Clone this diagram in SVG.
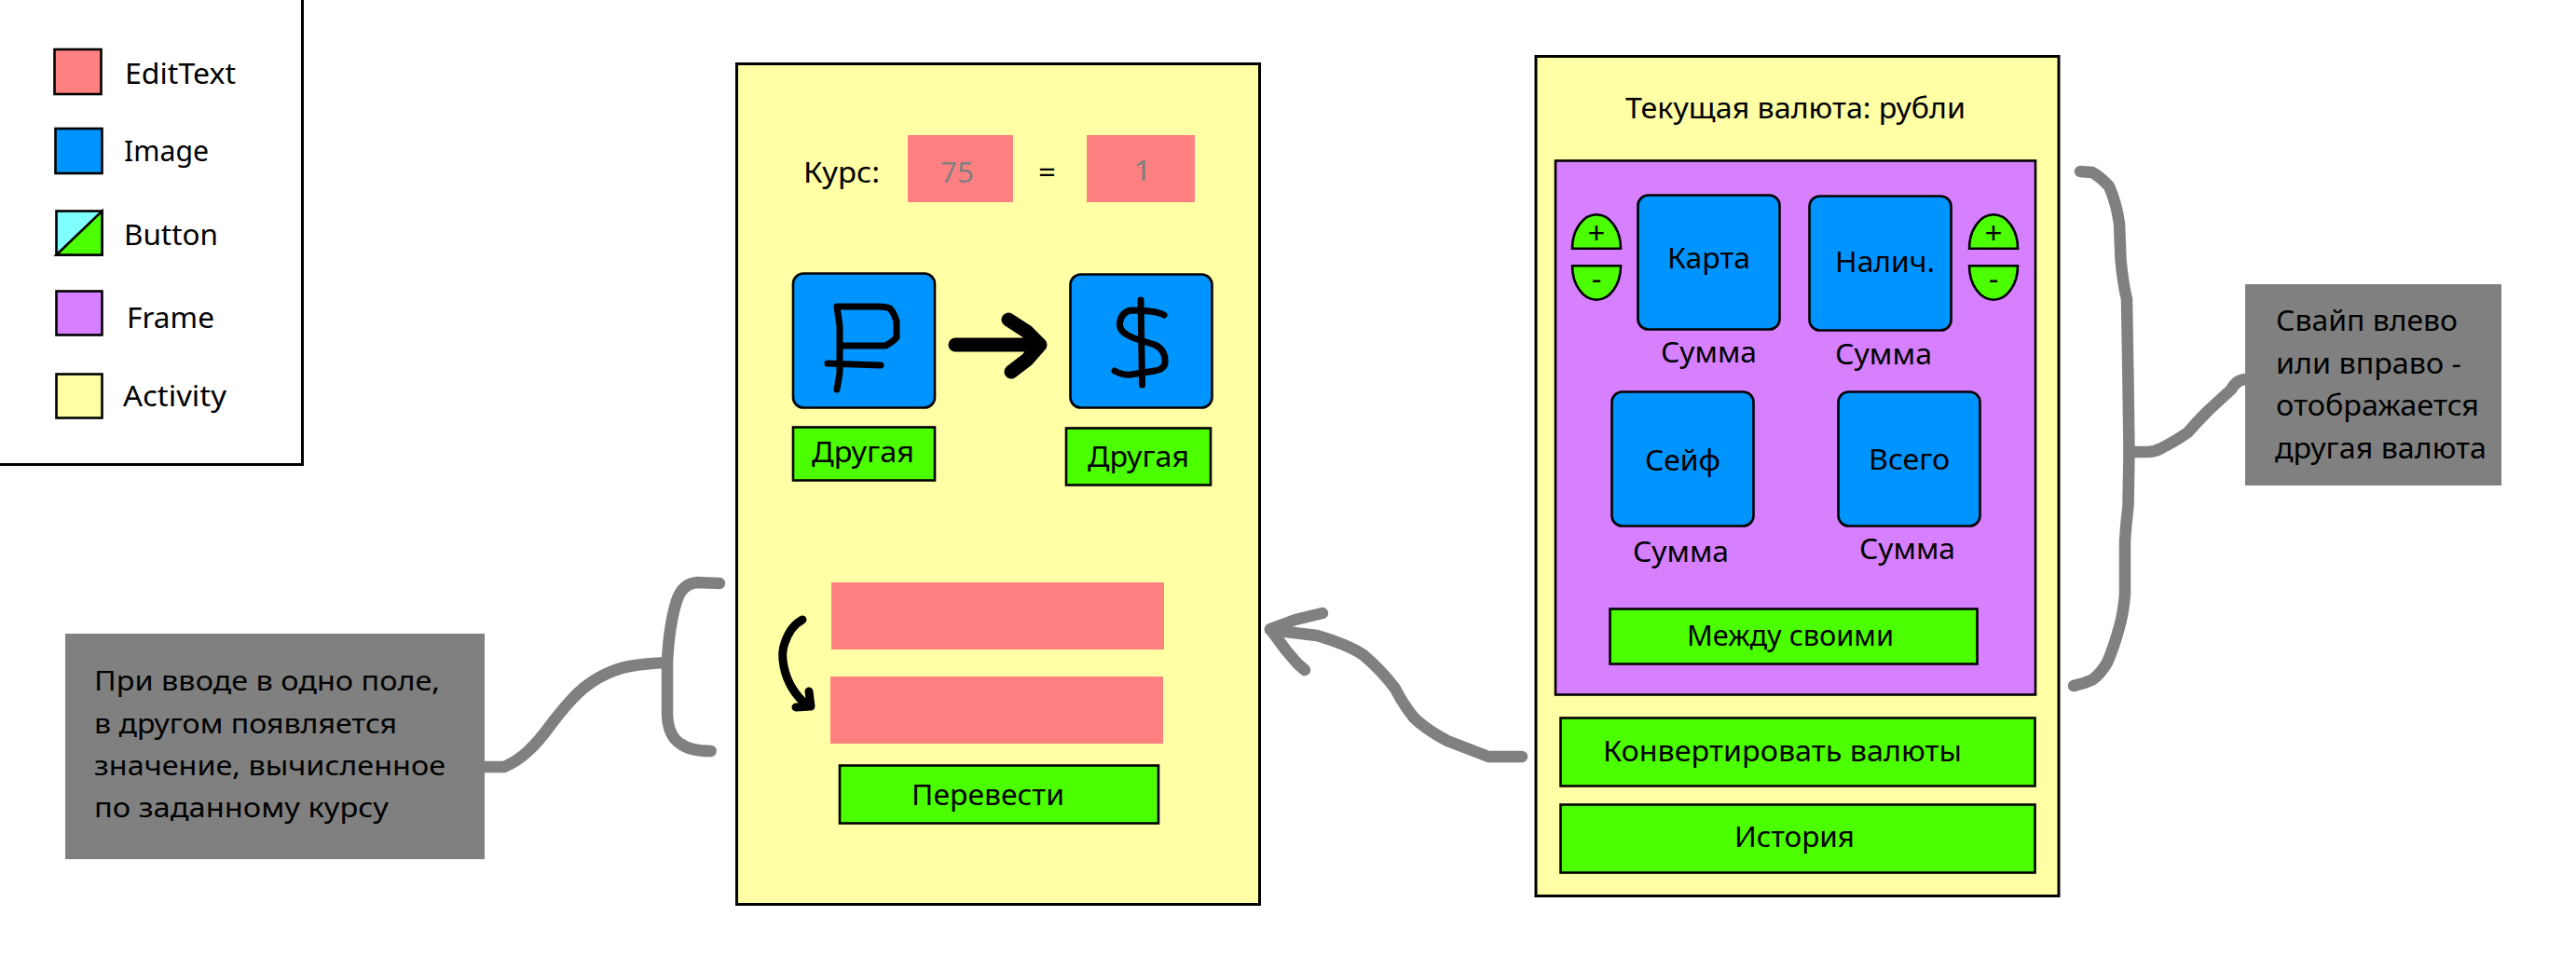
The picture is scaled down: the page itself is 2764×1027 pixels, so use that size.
<svg xmlns="http://www.w3.org/2000/svg" width="2764" height="1027" viewBox="0 0 2764 1027">
<style>
text{font-family:"Noto Sans","Open Sans","Liberation Sans",sans-serif;font-size:30px;fill:#000}
.n{font-size:29px}
.m{font-size:31.5px}
.p{font-size:33px}
.s{stroke:#000;stroke-width:2.6}
.a{fill:#FFFFA5;stroke:#000;stroke-width:3}
.e{fill:#FF8080}
.i{fill:#0094FF;stroke:#000;stroke-width:2.6}
.b{fill:#4CFF00;stroke:#000;stroke-width:2.6}
.f{fill:#D67FFF;stroke:#000;stroke-width:2.6}
.note{fill:#808080}
.ink{fill:none;stroke:#000;stroke-linecap:round;stroke-linejoin:round}
.con{fill:none;stroke:#808080;stroke-width:12.5;stroke-linecap:round;stroke-linejoin:round}
</style>
<rect width="2764" height="1027" fill="#fff"/>
<g id="legend">
<rect x="-10" y="-10" width="334.5" height="508.5" fill="#fff" stroke="#000" stroke-width="3"/>
<rect class="s" x="58.5" y="53" width="50" height="48" fill="#FF8080"/>
<text x="134" y="90" textLength="119" lengthAdjust="spacingAndGlyphs">EditText</text>
<rect class="i" x="59.5" y="138" width="50" height="48"/>
<text x="133" y="173" textLength="91" lengthAdjust="spacingAndGlyphs">Image</text>
<rect class="s" x="60.5" y="226.5" width="49" height="47" fill="#7FFFFF"/>
<path d="M60.5 273.5L109.5 226.5V273.5Z" fill="#4CFF00" stroke="#000" stroke-width="2.6"/>
<text x="133" y="263" textLength="101" lengthAdjust="spacingAndGlyphs">Button</text>
<rect class="f" x="60.5" y="312.5" width="49" height="47"/>
<text x="136" y="352" textLength="94" lengthAdjust="spacingAndGlyphs">Frame</text>
<rect class="s" x="60.5" y="401.5" width="49" height="47" fill="#FFFFA5"/>
<text x="132" y="436" textLength="111" lengthAdjust="spacingAndGlyphs">Activity</text>
</g>
<g id="activity-convert">
<rect class="a" x="790.5" y="68.5" width="561" height="902"/>
<text x="862" y="196" textLength="82" lengthAdjust="spacingAndGlyphs">Курс:</text>
<text x="1114" y="196" textLength="19" lengthAdjust="spacingAndGlyphs">=</text>
</g>
<g id="rate-left"><rect class="e" x="974" y="145" width="113" height="72"/><text class="m" x="1009" y="196" textLength="36" lengthAdjust="spacingAndGlyphs" style="fill:#808080">75</text></g>
<g id="rate-right"><rect class="e" x="1166" y="145" width="116" height="72"/><text class="m" x="1216" y="194" textLength="20" lengthAdjust="spacingAndGlyphs" style="fill:#808080">1</text></g>
<g id="image-ruble">
<rect class="i" x="851" y="293.5" width="152" height="144" rx="11"/>
<path class="ink" stroke-width="7" d="M898 418L901 400V350L898 329L942 329Q950 329 955 331Q960 337 962 345V362Q958 367 950 371H902M888 390L945 392"/>
</g>
<g id="image-dollar">
<rect class="i" x="1148.5" y="294.5" width="152" height="143" rx="11"/>
<path class="ink" stroke-width="7" d="M1224 322L1225.5 413M1249 338Q1240 333 1213 333Q1202 336 1201.500 348Q1201 357 1217 363L1239 370Q1250 375 1250 387Q1251 396 1239 398L1213 402Q1205 403 1196 398"/>
</g>
<g id="arrow-rate">
<path class="ink" stroke-width="15" d="M1025 370H1116M1082 343L1102 356L1116 370L1102 386L1085 399"/>
</g>
<g id="button-other-left"><rect class="b" x="851" y="458.500" width="152" height="57"/><text class="m" x="871" y="496" textLength="110" lengthAdjust="spacingAndGlyphs">Другая</text></g>
<g id="button-other-right"><rect class="b" x="1144" y="459.500" width="155" height="61"/><text class="m" x="1167" y="501" textLength="109" lengthAdjust="spacingAndGlyphs">Другая</text></g>
<g id="field-top"><rect class="e" x="892" y="625" width="357" height="72"/></g>
<g id="field-bottom"><rect class="e" x="891" y="726" width="357" height="72"/></g>
<g id="arrow-fields">
<path class="ink" stroke-width="9" d="M861 665Q848 672 842 690Q838 700 841 715Q846 740 866 757M868 742L870 758L854 759"/>
</g>
<g id="button-transfer"><rect class="b" x="901" y="821.500" width="342" height="62"/><text class="m" x="978" y="864" textLength="164" lengthAdjust="spacingAndGlyphs">Перевести</text></g>
<g id="activity-main">
<rect class="a" x="1648" y="60.500" width="561" height="901"/>
<text class="m" x="1744" y="127" textLength="365" lengthAdjust="spacingAndGlyphs">Текущая валюта: рубли</text>
</g>
<g id="frame-wallets">
<rect class="f" x="1669" y="172.500" width="515" height="573"/>
<text class="m" x="1782" y="389" textLength="103" lengthAdjust="spacingAndGlyphs">Сумма</text>
<text class="m" x="1969" y="391" textLength="104" lengthAdjust="spacingAndGlyphs">Сумма</text>
<text class="m" x="1752" y="603" textLength="103" lengthAdjust="spacingAndGlyphs">Сумма</text>
<text class="m" x="1995" y="600" textLength="103" lengthAdjust="spacingAndGlyphs">Сумма</text>
</g>
<g id="image-card"><rect class="i" x="1757.500" y="209.500" width="152" height="144" rx="11"/><text class="m" x="1789" y="288" textLength="89" lengthAdjust="spacingAndGlyphs">Карта</text></g>
<g id="image-cash"><rect class="i" x="1941.500" y="210.500" width="152" height="144" rx="11"/><text class="m" x="1969" y="292" textLength="107" lengthAdjust="spacingAndGlyphs">Налич.</text></g>
<g id="image-safe"><rect class="i" x="1729.500" y="420.500" width="152" height="144" rx="11"/><text class="m" x="1765" y="505" textLength="81" lengthAdjust="spacingAndGlyphs">Сейф</text></g>
<g id="image-total"><rect class="i" x="1972.500" y="420.500" width="152" height="144" rx="11"/><text class="m" x="2005" y="504" textLength="87" lengthAdjust="spacingAndGlyphs">Всего</text></g>
<g id="card-plus"><path class="b" d="M1687 266.700A26 36.500 0 0 1 1739 266.700Z"/><text class="p" x="1713" y="262" text-anchor="middle">+</text></g>
<g id="card-minus"><path class="b" d="M1687 285.300A26 36.500 0 0 0 1739 285.300Z"/><text class="p" x="1713" y="311" text-anchor="middle">-</text></g>
<g id="cash-plus"><path class="b" d="M2113 266.700A26 36.500 0 0 1 2165 266.700Z"/><text class="p" x="2139" y="262" text-anchor="middle">+</text></g>
<g id="cash-minus"><path class="b" d="M2113 285.300A26 36.500 0 0 0 2165 285.300Z"/><text class="p" x="2139" y="311" text-anchor="middle">-</text></g>
<g id="button-between"><rect class="b" x="1727.500" y="653.500" width="394" height="59"/><text class="m" x="1810" y="693" textLength="222" lengthAdjust="spacingAndGlyphs">Между своими</text></g>
<g id="button-convert"><rect class="b" x="1674.500" y="770.500" width="509" height="73"/><text class="m" x="1720" y="817" textLength="385" lengthAdjust="spacingAndGlyphs">Конвертировать валюты</text></g>
<g id="button-history"><rect class="b" x="1674.500" y="863.500" width="509" height="73"/><text class="m" x="1861" y="909" textLength="129" lengthAdjust="spacingAndGlyphs">История</text></g>
<g id="connectors">
<path class="con" d="M1633 812L1597 812L1553 795Q1530 783 1517 770Q1505 755 1497 739Q1483 720 1463 703Q1447 692 1413 682L1363 676"/>
<path class="con" d="M1419 658L1390 665L1363 675L1380 698L1392 712L1400 719"/>
<path class="con" d="M772 626L748.500 625Q732 626 726 645Q718 670 716 710L716 767Q717 790 730 798Q740 806 762.600 806"/>
<path class="con" d="M520 823L541 823Q555 817 566.700 806Q578.500 795 590 779Q602 763 614 750Q625.700 737 642 727.500Q659 718 675.500 715Q692 712 716 711"/>
<path class="con" d="M2232 184L2245 185Q2254 190 2263 200Q2271 218 2274 240L2275.500 279Q2278 305 2282 321L2283.500 412L2284.500 485L2283.500 543Q2281 563 2280 581L2280 638Q2278 660 2274 673Q2268 695 2261 711Q2254 723 2245 729.500Q2235 734 2225 736"/>
<path class="con" d="M2284.500 485L2304 485Q2312 485 2319 481Q2335 473 2347.500 464Q2358 452 2369 441L2394 418Q2400 407 2410 407"/>
</g>
<g id="note-swipe">
<rect class="note" x="2409" y="305" width="275" height="216"/>
<text class="m" x="2442" y="355" textLength="195" lengthAdjust="spacingAndGlyphs">Свайп влево</text>
<text class="m" x="2442" y="401" textLength="199" lengthAdjust="spacingAndGlyphs">или вправо -</text>
<text class="m" x="2442" y="446" textLength="218" lengthAdjust="spacingAndGlyphs">отображается</text>
<text class="m" x="2441" y="492" textLength="227" lengthAdjust="spacingAndGlyphs">другая валюта</text>
</g>
<g id="note-input">
<rect class="note" x="70" y="680" width="450" height="242"/>
<text class="n" x="101" y="741" textLength="371" lengthAdjust="spacingAndGlyphs">При вводе в одно поле,</text>
<text class="n" x="101" y="787" textLength="325" lengthAdjust="spacingAndGlyphs">в другом появляется</text>
<text class="n" x="101" y="832" textLength="377" lengthAdjust="spacingAndGlyphs">значение, вычисленное</text>
<text class="n" x="101" y="877" textLength="316" lengthAdjust="spacingAndGlyphs">по заданному курсу</text>
</g>
</svg>
